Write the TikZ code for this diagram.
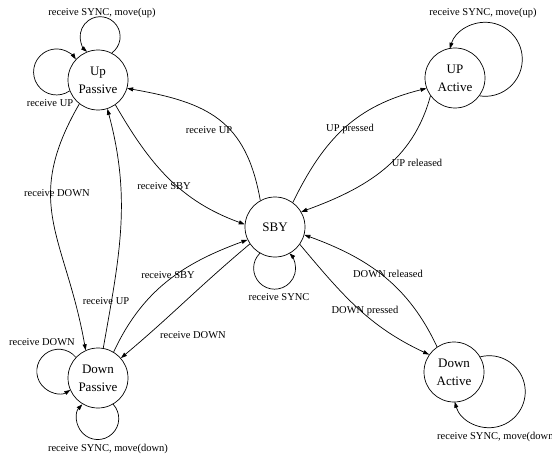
\documentclass[tikz,border=0pt]{standalone}
\usepackage{fontspec}
\setmainfont{Liberation Serif}
\usetikzlibrary{arrows.meta}
\tikzset{
  st/.style={circle, draw, line width=0.7pt, minimum size=60pt, inner sep=0pt, align=center,
    font=\fontsize{13}{18}\selectfont},
  lbl/.style={inner sep=0pt, font=\fontsize{10.5}{12}\selectfont},
  tr/.style={line width=0.7pt, -{Triangle[length=6pt,width=4pt]}},
}
\begin{document}
\begin{tikzpicture}[x=1pt,y=1pt]
\useasboundingbox[fill=white] (0,0) rectangle (552,-460);
% states
\node[st] (up)  at (98,-80)  {Up\\Passive};
\node[st] (ua)  at (455,-78) {UP\\Active};
\node[st] (sby) at (275,-227) {SBY};
\node[st] (dp)  at (98,-378) {Down\\Passive};
\node[st] (da)  at (454,-372) {Down\\Active};
% self loops
\draw[tr] (up.63) arc[start angle=-54.4, end angle=229, radius=20];
\draw[tr] (up.201) arc[start angle=-55.3, end angle=-326.7, radius=23];
\draw[tr] (ua.-36) arc[start angle=261.1, end angle=523.5, radius=37];
\draw[tr] (dp.137) arc[start angle=39.3, end angle=301.7, radius=22];
\draw[tr] (dp.-60) arc[start angle=42.8, end angle=-222.8, radius=21];
\draw[tr] (sby.240) arc[start angle=134.8, end angle=405.2, radius=21];
\draw[tr] (da.30) arc[start angle=104.4, end angle=-163.8, radius=36];
% transitions
\draw[tr] (sby.119) to[out=100,in=-10,looseness=1.2] (up.-16);
\draw[tr] (up.-55) to[out=-60,in=160] (sby.175);
\draw[tr] (sby.54) to[out=64,in=194,looseness=1.05] (ua.200);
\draw[tr] (ua.216) to[out=-105,in=20] (sby.30);
\draw[tr] (da.124) to[out=115,in=-20] (sby.-15);
\draw[tr] (sby.-35) to[out=-50,in=155] (da.145);
\draw[tr] (dp.59) to[out=65,in=200] (sby.205);
\draw[tr] (sby.214) to[out=-140,in=40] (dp.41);
\draw[tr] (up.232) to[out=-120,in=100,looseness=1.2] (dp.114);
\draw[tr] (dp.80) to[out=80,in=-75] (up.-72);
% labels
\node[lbl] (l1)  at (102,-13)  {receive SYNC, move(up)};
\node[lbl] (l2)  at (50,-103)  {receive UP};
\node[lbl] (l3)  at (483,-13)  {receive SYNC, move(up)};
\node[lbl] (l4)  at (209,-130) {receive UP};
\node[lbl] (l5)  at (164,-186) {receive SBY};
\node[lbl] (l6)  at (350,-129) {UP pressed};
\node[lbl] (l7)  at (417,-163) {UP released};
\node[lbl] (l8)  at (57,-193)  {receive DOWN};
\node[lbl] (l9)  at (168,-275) {receive SBY};
\node[lbl] (l10) at (106,-301) {receive UP};
\node[lbl] (l11) at (193,-335) {receive DOWN};
\node[lbl] (l12) at (279,-297) {receive SYNC};
\node[lbl] (l13) at (388,-274) {DOWN released};
\node[lbl] (l14) at (365,-311) {DOWN pressed};
\node[lbl] (l15) at (42,-342)  {receive DOWN};
\node[lbl] (l16) at (108,-449) {receive SYNC, move(down)};
\node[lbl,anchor=west] (l17) at (437,-437) {receive SYNC, move(down)};
\end{tikzpicture}
\end{document}
